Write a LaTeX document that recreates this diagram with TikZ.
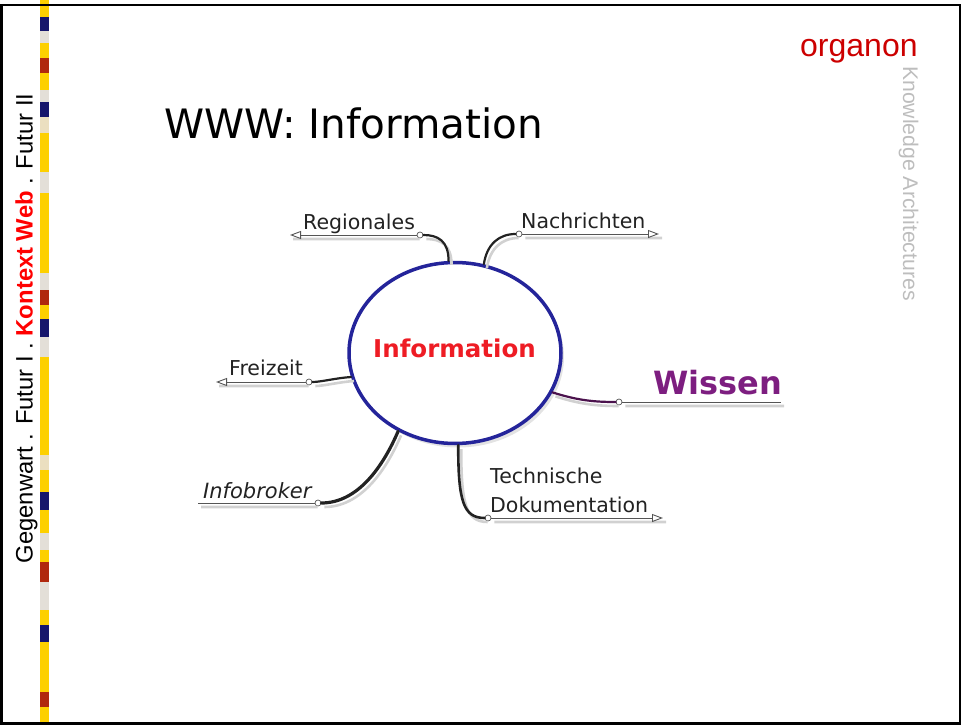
\documentclass[tikz,border=0pt]{standalone}
\usepackage{fontspec}
\setmainfont{DejaVu Sans}
\newfontfamily\arialfont{Liberation Sans}
\usetikzlibrary{arrows.meta}
\usetikzlibrary{shapes.geometric}
\usetikzlibrary{shadows}
\definecolor{stripegold}{HTML}{FDD000}
\definecolor{stripenavy}{HTML}{16166C}
\definecolor{stripered}{HTML}{B0280E}
\definecolor{stripegray}{HTML}{E3DFD8}
\definecolor{stripebeige}{HTML}{EBDFC0}
\definecolor{kontextred}{HTML}{FF0000}
\definecolor{organonred}{HTML}{CC0000}
\definecolor{archgray}{HTML}{BDBDBD}
\definecolor{ovalblue}{HTML}{24249A}
\definecolor{infored}{HTML}{EE1C24}
\definecolor{wissenpurple}{HTML}{7D1E80}
\definecolor{branchgray}{HTML}{222222}
\definecolor{stemgray}{HTML}{555555}

\begin{document}
\begin{tikzpicture}[x=1pt,y=-1pt,
      branch/.style={draw=branchgray, line width=2.2pt, line cap=round},
      stem/.style={draw=stemgray, line width=0.9pt},
      knob/.style={draw=stemgray, fill=white, circle, inner sep=0pt, minimum size=6pt, line width=0.7pt},
      leaf/.style={anchor=base west, inner sep=0pt, text=branchgray, font=\fontsize{20.5}{25}\selectfont},
      ghost/.style={draw=black!18, line width=2.6pt},
      openhead/.style={-{Triangle[open, length=11pt, width=8pt]}}
    ]
    \useasboundingbox (0,0) rectangle (962,725);

    \foreach \ya/\yb/\c in {0/17/stripegold, 17/31/stripenavy, 31/43/stripegray, 43/58/stripegold,
        58/73/stripered, 73/90/stripegold, 90/102/stripegray, 102/117/stripenavy, 117/133/stripebeige,
        133/172/stripegold, 172/193/stripegray, 193/273/stripegold, 273/290/stripegray, 290/305/stripered,
        305/319/stripegold, 319/337/stripenavy, 337/357/stripegray, 357/455/stripegold, 455/470/stripebeige,
        470/492/stripegold, 492/510/stripenavy, 510/533/stripegold, 533/550/stripegray, 550/562/stripegold,
        562/582/stripered, 582/610/stripegray, 610/625/stripegold, 625/642/stripenavy, 642/692/stripegold,
        692/707/stripered, 707/725/stripegold}
      \fill[\c] (40,\ya) rectangle (49,\yb);
    \draw[line width=2.5pt] (1.5,5) rectangle (960,723.5);

    \node[rotate=90, anchor=base, inner sep=0pt, font=\arialfont\fontsize{23.8}{28}\selectfont] (path) at (32.5,328.5)
      {Gegenwart . Futur I . \textcolor{kontextred}{\bfseries Kontext Web} . Futur II};
    \node[anchor=base west, inner sep=0pt, text=organonred, font=\arialfont\fontsize{32}{38}\selectfont] (organon) at (800,57) {organon};
    \node[rotate=-90, anchor=base west, inner sep=0pt, text=archgray, font=\arialfont\fontsize{21.2}{25}\selectfont] (arch) at (903,66) {Knowledge Architectures};
    \node[anchor=base west, inner sep=0pt, font=\fontsize{40.5}{48}\selectfont] (title) at (164,139) {WWW: Information};

    \node[draw=ovalblue, fill=white, ellipse, line width=3.5pt, minimum width=212pt, minimum height=181pt, inner sep=0pt,
      drop shadow={shadow xshift=3pt, shadow yshift=-4pt, fill=black!22}] (info) at (455,353) {};
    \node[anchor=base west, inner sep=0pt, text=infored, font=\bfseries\fontsize{24.5}{29}\selectfont] (infotext) at (373,357) {Information};

    \node[knob] (regknob) at (420,235) {};
    \node[knob] (nachknob) at (519,234) {};
    \node[knob] (freiknob) at (309,382) {};
    \node[knob] (brokerknob) at (318,503) {};
    \node[knob] (techknob) at (488,518) {};
    \node[knob] (wisknob) at (619,402) {};
    \coordinate (regtip) at (290,235);
    \coordinate (nachtip) at (659,234);
    \coordinate (freitip) at (216,382);
    \coordinate (brokerend) at (198,503);
    \coordinate (techtip) at (663,518);
    \coordinate (wisend) at (781,402);

    \node[leaf] (reg) at (303,229) {Regionales};
    \node[leaf] (nach) at (521,228) {Nachrichten};
    \node[leaf] (frei) at (229,375) {Freizeit};
    \node[leaf, font=\itshape\fontsize{21}{25}\selectfont] (broker) at (203,498) {Infobroker};
    \node[leaf] (tech) at (490,483) {Technische};
    \node[leaf] (doku) at (490,512) {Dokumentation};
    \node[leaf, text=wissenpurple, font=\bfseries\fontsize{32}{38}\selectfont] (wissen) at (653,394) {Wissen};

    \begin{scope}[transform canvas={shift={(3pt,-4pt)}}]
      \draw[ghost] (info.94) .. controls +(0,-20) and +(18,0) .. (regknob) -- (regtip);
      \draw[ghost] (info.72) .. controls +(3,-20) and +(-20,0) .. (nachknob) -- (nachtip);
      \draw[ghost] (info.193) .. controls +(-15,1) and +(12,0) .. (freiknob) -- (freitip);
      \draw[ghost] (info.234) .. controls +(-15,35) and +(40,0) .. (brokerknob) -- (brokerend);
      \draw[ghost] (info.272) .. controls +(0,55) and +(-25,0) .. (techknob) -- (techtip);
      \draw[ghost] (info.338) .. controls +(25,8) and +(-25,0) .. (wisknob) -- (wisend);
    \end{scope}

    \draw[branch] (info.94) .. controls +(0,-20) and +(18,0) .. (regknob);
    \draw[branch] (info.72) .. controls +(3,-20) and +(-20,0) .. (nachknob);
    \draw[branch] (info.193) .. controls +(-15,1) and +(12,0) .. (freiknob);
    \draw[branch, line width=3.2pt] (info.234) .. controls +(-15,35) and +(40,0) .. (brokerknob);
    \draw[branch, line width=2.6pt] (info.272) .. controls +(0,55) and +(-25,0) .. (techknob);
    \draw[branch, draw=wissenpurple!60!black] (info.338) .. controls +(25,8) and +(-25,0) .. (wisknob);

    \draw[stem, openhead] (regknob) -- (regtip);
    \draw[stem, openhead] (nachknob) -- (nachtip);
    \draw[stem, openhead] (freiknob) -- (freitip);
    \draw[stem] (brokerknob) -- (brokerend);
    \draw[stem, openhead] (techknob) -- (techtip);
    \draw[stem] (wisknob) -- (wisend);
  \end{tikzpicture}
\end{document}
